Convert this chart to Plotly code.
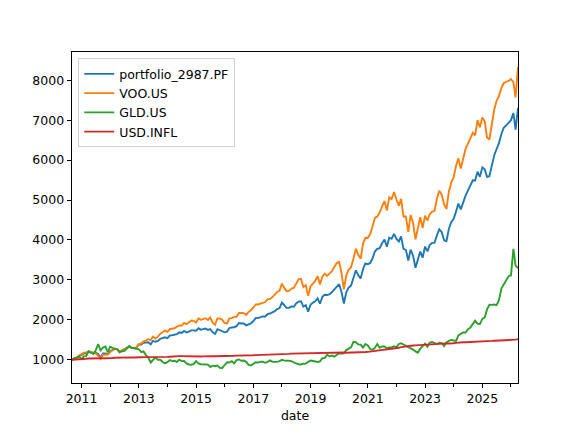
import pandas as pd
import plotly.graph_objects as go

# monthly points, first month of 2010-09 .. 2026-04
dates = pd.date_range("2010-09-01", "2026-04-01", freq="MS")

names = ["portfolio_2987.PF", "VOO.US", "GLD.US", "USD.INFL"]
colors = ["#1f77b4", "#ff7f0e", "#2ca02c", "#d62728"]

portfolio = [
    1000, 1040, 1042, 1102,
    1118, 1160, 1162, 1210, 1190, 1167, 1173, 1141, 1052, 1155, 1155, 1140,
    1214, 1248, 1276, 1267, 1189, 1233, 1258, 1290, 1327, 1296, 1298, 1302,
    1380, 1379, 1423, 1424, 1436, 1386, 1474, 1450, 1471, 1525, 1543, 1563,
    1541, 1611, 1614, 1625, 1643, 1685, 1669, 1721, 1681, 1702, 1736, 1735,
    1728, 1787, 1753, 1766, 1782, 1747, 1769, 1687, 1646, 1764, 1744, 1718,
    1686, 1704, 1794, 1809, 1814, 1841, 1917, 1906, 1906, 1862, 1886, 1909,
    1970, 2045, 2042, 2065, 2085, 2084, 2140, 2157, 2178, 2216, 2267, 2295,
    2433, 2347, 2298, 2298, 2336, 2328, 2409, 2457, 2465, 2331, 2366, 2205,
    2378, 2430, 2462, 2537, 2403, 2578, 2627, 2620, 2643, 2694, 2758, 2841,
    2892, 2690, 2407, 2692, 2804, 2859, 3066, 3240, 3113, 3037, 3272, 3414,
    3394, 3424, 3534, 3710, 3777, 3795, 3916, 4009, 3829, 4057, 4029, 4150,
    4025, 3962, 4088, 3776, 3752, 3484, 3757, 3606, 3302, 3504, 3711, 3554,
    3834, 3715, 3874, 3926, 3926, 4113, 4268, 4198, 3993, 3970, 4281, 4442,
    4530, 4715, 4911, 4766, 4965, 5111, 5234, 5359, 5495, 5488, 5709, 5581,
    5818, 5770, 5579, 5597, 5877, 6117, 6272, 6423, 6654, 6811, 6870, 6928,
    7000, 7180, 6760, 7310,
]

voo = [
    1000, 1040, 1038, 1106,
    1142, 1178, 1177, 1211, 1194, 1173, 1160, 1095, 1016, 1125, 1120, 1130,
    1191, 1240, 1278, 1269, 1189, 1237, 1266, 1292, 1323, 1296, 1300, 1309,
    1390, 1406, 1456, 1483, 1514, 1490, 1581, 1532, 1578, 1648, 1694, 1733,
    1692, 1764, 1777, 1788, 1826, 1860, 1852, 1921, 1891, 1935, 1983, 1975,
    1931, 2038, 2002, 2019, 2040, 1997, 2058, 1929, 1878, 2033, 2034, 1999,
    1919, 1911, 2037, 2042, 2074, 2076, 2172, 2169, 2166, 2124, 2197, 2237,
    2300, 2385, 2384, 2405, 2434, 2445, 2517, 2519, 2567, 2624, 2698, 2725,
    2906, 2793, 2718, 2725, 2783, 2797, 2926, 3015, 3028, 2818, 2868, 2605,
    2836, 2920, 2973, 3090, 2887, 3086, 3156, 3099, 3153, 3217, 3326, 3422,
    3449, 3158, 2763, 3113, 3254, 3314, 3529, 3777, 3629, 3528, 3908, 4053,
    4048, 4154, 4331, 4557, 4582, 4685, 4835, 4975, 4739, 5066, 5024, 5200,
    5013, 4855, 5028, 4587, 4587, 4201, 4626, 4430, 4016, 4337, 4570, 4301,
    4607, 4486, 4643, 4711, 4723, 5029, 5231, 5139, 4888, 4781, 5208, 5438,
    5573, 5860, 6042, 5791, 6070, 6279, 6406, 6552, 6684, 6618, 6997, 6823,
    7068, 6967, 6566, 6516, 6917, 7260, 7480, 7610, 7800, 7930, 7960, 7980,
    8030, 7950, 7570, 8330,
]

gld = [
    1000, 1037, 1059, 1084,
    1014, 1083, 1094, 1203, 1170, 1142, 1235, 1389, 1236, 1306, 1332, 1188,
    1326, 1288, 1267, 1258, 1188, 1213, 1222, 1286, 1344, 1299, 1291, 1267,
    1262, 1188, 1208, 1115, 1054, 931, 1000, 1059, 998, 998, 942, 908,
    939, 993, 966, 976, 942, 1001, 966, 969, 909, 881, 876, 888,
    965, 909, 888, 888, 892, 879, 819, 851, 836, 854, 797, 794,
    868, 937, 930, 966, 908, 989, 1008, 975, 982, 947, 871, 857,
    900, 937, 928, 950, 948, 923, 944, 983, 951, 944, 946, 967,
    997, 977, 984, 973, 966, 928, 906, 887, 882, 901, 903, 948,
    979, 969, 954, 945, 959, 1041, 1040, 1124, 1086, 1105, 1077, 1118,
    1160, 1155, 1158, 1242, 1274, 1309, 1450, 1439, 1385, 1378, 1303, 1395,
    1355, 1265, 1251, 1296, 1395, 1298, 1333, 1332, 1284, 1310, 1310, 1337,
    1314, 1395, 1413, 1383, 1338, 1317, 1289, 1254, 1210, 1177, 1276, 1326,
    1400, 1326, 1432, 1445, 1426, 1394, 1424, 1414, 1341, 1434, 1473, 1495,
    1482, 1471, 1608, 1657, 1683, 1681, 1762, 1808, 1901, 1979, 1899, 1893,
    2022, 2059, 2253, 2375, 2374, 2383, 2368, 2493, 2780, 2878, 2983, 3092,
    3110, 3775, 3358, 3292,
]

usd_infl = [
    1000, 1001, 1002, 1003,
    1008, 1013, 1023, 1030, 1034, 1033, 1034, 1037, 1039, 1037, 1036, 1033,
    1038, 1042, 1050, 1053, 1052, 1051, 1049, 1055, 1059, 1059, 1054, 1051,
    1054, 1063, 1066, 1065, 1066, 1069, 1069, 1071, 1072, 1069, 1067, 1067,
    1071, 1075, 1082, 1085, 1089, 1091, 1091, 1089, 1090, 1087, 1081, 1075,
    1070, 1075, 1081, 1083, 1089, 1092, 1093, 1091, 1089, 1089, 1087, 1083,
    1085, 1085, 1090, 1095, 1100, 1103, 1102, 1103, 1105, 1107, 1105, 1105,
    1112, 1115, 1116, 1119, 1120, 1121, 1121, 1124, 1130, 1129, 1129, 1129,
    1135, 1140, 1142, 1147, 1152, 1154, 1154, 1154, 1156, 1158, 1154, 1150,
    1152, 1157, 1164, 1170, 1172, 1173, 1175, 1175, 1175, 1178, 1177, 1176,
    1181, 1184, 1182, 1174, 1174, 1180, 1186, 1190, 1192, 1192, 1191, 1192,
    1197, 1204, 1213, 1223, 1232, 1244, 1250, 1252, 1256, 1266, 1272, 1276,
    1287, 1299, 1316, 1324, 1338, 1356, 1356, 1356, 1359, 1364, 1363, 1359,
    1370, 1377, 1382, 1389, 1392, 1397, 1399, 1406, 1409, 1409, 1406, 1404,
    1412, 1421, 1430, 1435, 1438, 1438, 1440, 1441, 1443, 1445, 1444, 1445,
    1454, 1461, 1464, 1469, 1472, 1477, 1479, 1483, 1487, 1489, 1484, 1486,
    1490, 1495, 1502, 1518,
]

FONT = dict(family="DejaVu Sans", size=12.5, color="black")

fig = go.Figure()
for name, values, color in zip(names, [portfolio, voo, gld, usd_infl], colors):
    fig.add_trace(go.Scatter(x=dates, y=values, mode="lines", name=name,
                             line=dict(color=color, width=1.9)))

# matplotlib style 5% margins on y, tight on x
all_values = portfolio + voo + gld + usd_infl
span = max(all_values) - min(all_values)
y_range = [min(all_values) - 0.05 * span, max(all_values) + 0.05 * span]

axis_style = dict(showline=True, linecolor="black", linewidth=1, mirror=True,
                  ticks="outside", ticklen=4.4, tickwidth=1, tickcolor="black",
                  showgrid=False, zeroline=False, tickfont=FONT)

fig.update_xaxes(
    range=[dates[0], dates[-1]], tick0="2011-01-01", dtick="M24", tickformat="%Y",
    minor=dict(ticks="outside", ticklen=2.5, tickwidth=0.8, tickcolor="black",
               dtick="M12", tick0="2011-01-01", showgrid=False),
    title=dict(text="date", font=FONT, standoff=5),
    **axis_style,
)
fig.update_yaxes(range=y_range, tick0=1000, dtick=1000, **axis_style)

# the page body adds an 8px offset, margins compensate for it
fig.update_layout(
    width=576, height=432,
    margin=dict(l=64, r=66, t=44, b=57),
    paper_bgcolor="white", plot_bgcolor="white",
    font=FONT,
    showlegend=True,
    legend=dict(x=0.014, y=0.981, xanchor="left", yanchor="top",
                bordercolor="#d0d0d0", borderwidth=1, bgcolor="rgba(255,255,255,0.8)",
                font=FONT, itemwidth=30, tracegroupgap=0),
)

fig.write_html("out.html")
